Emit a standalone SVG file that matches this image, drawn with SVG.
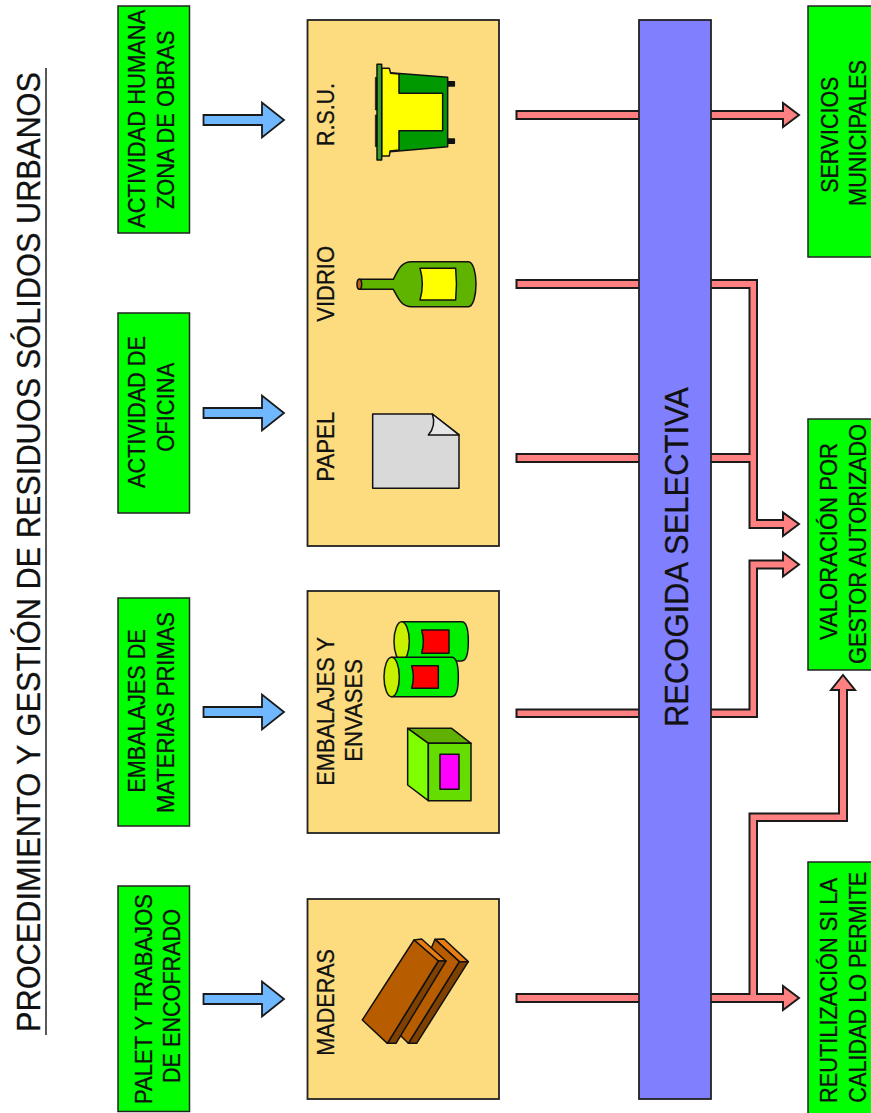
<svg xmlns="http://www.w3.org/2000/svg" width="871" height="1113" viewBox="0 0 871 1113">
<style>
text{font-family:"Liberation Sans",Arial,sans-serif;fill:#111;stroke:#111;stroke-width:.3}
.s{font-size:24px}
.g{fill:#00ff00;stroke:#222;stroke-width:1.5}
.t{fill:#fddc80;stroke:#222;stroke-width:1.8}
.p{fill:#ff8080;stroke:#1a1a1a;stroke-width:2;stroke-linejoin:miter}
.b{fill:#6fb7ff;stroke:#1a1a1a;stroke-width:1.8}
.i{stroke:#111;stroke-width:4.5;stroke-linejoin:round}
</style>
<rect width="871" height="1113" fill="#fff"/>
<g id="title">
<text transform="translate(39.500,1032) rotate(-90)" font-size="33" textLength="960" lengthAdjust="spacingAndGlyphs">PROCEDIMIENTO Y GESTIÓN DE RESIDUOS SÓLIDOS URBANOS</text>
<line x1="46" y1="68" x2="46" y2="1035" stroke="#222" stroke-width="1.5"/>
</g>
<g id="connectors">
<path class="b" d="M203.500,115H262V102.500L284,120L262,137.500V125H203.500Z"/>
<path class="b" d="M203.500,408H262V395.500L284,413L262,430.500V418H203.500Z"/>
<path class="b" d="M203.500,707H262V694.500L284,712L262,729.500V717H203.500Z"/>
<path class="b" d="M203.500,994H262V981.500L284,999L262,1016.500V1004H203.500Z"/>
<path class="p" d="M516.500,111H783V103L799,115L783,127V119H516.500Z"/>
<path class="p" d="M516.500,280H757V520H783V512.500L799,524L783,536V528H749.500V462H516.500V454H749.500V288H516.500Z"/>
<path class="p" d="M516.500,709.500H749.500V560.500H783V552.500L799,564.500L783,576.500V568.500H757V717H516.500Z"/>
<path class="p" d="M516.500,994H749.500V813.500H839V690H831L843,675L855,690H847V821H757V994H783V986L799,998L783,1010V1002H516.500Z"/>
</g>
<g id="recogida">
<rect x="639" y="20" width="72" height="1079" fill="#8080ff" stroke="#222" stroke-width="1.8"/>
<text transform="translate(688,727) rotate(-90)" font-size="33" textLength="340" lengthAdjust="spacingAndGlyphs">RECOGIDA SELECTIVA</text>
</g>
<g id="origen-actividad-humana">
<rect class="g" x="118" y="6" width="71.500" height="227"/>
<text class="s" transform="translate(145,228) rotate(-90) scale(.915,1)">ACTIVIDAD HUMANA</text>
<text class="s" transform="translate(173.500,209) rotate(-90)" textLength="178.500" lengthAdjust="spacingAndGlyphs">ZONA DE OBRAS</text>
</g>
<g id="origen-oficina">
<rect class="g" x="118" y="313" width="71.500" height="200"/>
<text class="s" transform="translate(145,488) rotate(-90)" textLength="152" lengthAdjust="spacingAndGlyphs">ACTIVIDAD DE</text>
<text class="s" transform="translate(173.500,451.700) rotate(-90)" textLength="89" lengthAdjust="spacingAndGlyphs">OFICINA</text>
</g>
<g id="origen-embalajes">
<rect class="g" x="118" y="598" width="71.500" height="228"/>
<text class="s" transform="translate(145,792.700) rotate(-90)" textLength="163.400" lengthAdjust="spacingAndGlyphs">EMBALAJES DE</text>
<text class="s" transform="translate(173.500,813) rotate(-90)" textLength="201" lengthAdjust="spacingAndGlyphs">MATERIAS PRIMAS</text>
</g>
<g id="origen-palet">
<rect class="g" x="118" y="886" width="71.500" height="225.500"/>
<text class="s" transform="translate(151.700,1104) rotate(-90)" textLength="210" lengthAdjust="spacingAndGlyphs">PALET Y TRABAJOS</text>
<text class="s" transform="translate(180,1083) rotate(-90)" textLength="174" lengthAdjust="spacingAndGlyphs">DE ENCOFRADO</text>
</g>
<g id="contenedor-rsu-vidrio-papel">
<rect class="t" x="307.500" y="20" width="191.500" height="526"/>
<text class="s" transform="translate(334.300,146) rotate(-90)" textLength="63" lengthAdjust="spacingAndGlyphs">R.S.U.</text>
<text class="s" transform="translate(334.300,321.700) rotate(-90)" textLength="75.700" lengthAdjust="spacingAndGlyphs">VIDRIO</text>
<text class="s" transform="translate(334.300,481.700) rotate(-90)" textLength="70" lengthAdjust="spacingAndGlyphs">PAPEL</text>
<g transform="translate(300,0) scale(.33333)">
<path class="i" d="M443,245H463V258H443ZM443,417H463V430H443Z" fill="#111"/>
<path class="i" d="M270,218L443,232V440L270,455Z" fill="#009900"/>
<path class="i" d="M245,205H268L272,220L297,222V280H428V392H297V450L270,453L268,468H245Z" fill="#ffff00"/>
<path d="M226,232H231V330H226ZM226,345H231V440H226Z" fill="#111" stroke="#111" stroke-width="2"/>
<rect class="i" x="231" y="193" width="14" height="287" fill="#33a02c"/>
<path class="i" d="M178,838H280C296,805 305,785 335,785H505C520,785 528,820 528,853C528,885 520,920 505,920H335C305,920 296,898 280,868H178Z" fill="#5fb400"/>
<ellipse class="i" cx="178" cy="853" rx="7" ry="15" fill="#c0601a"/>
<path class="i" d="M360,805H467Q472,853 467,900H360Q374,853 360,805Z" fill="#ffff00"/>
<g transform="translate(0,990)">
<path class="i" d="M218,252H397L477,314V475H218Z" fill="#d9d9d9"/>
<path class="i" d="M397,252Q409,288 385,315H477Z" fill="#e6e6e6"/>
</g>
</g>
</g>
<g id="contenedor-embalajes">
<rect class="t" x="307.500" y="591" width="191.500" height="242"/>
<text class="s" transform="translate(334.300,785.700) rotate(-90)" textLength="148.700" lengthAdjust="spacingAndGlyphs">EMBALAJES Y</text>
<text class="s" transform="translate(362.300,761.700) rotate(-90)" textLength="102.700" lengthAdjust="spacingAndGlyphs">ENVASES</text>
<g transform="translate(300,580) scale(.33333)">
<path class="i" d="M305,125H485Q505,125 505,184Q505,243 485,243H305Z" fill="#00f000"/>
<ellipse class="i" cx="305" cy="184" rx="23" ry="59" fill="#c8f000"/>
<path class="i" d="M365,150H447V220H365Q375,185 365,150Z" fill="#ff0000"/>
<path class="i" d="M275,232H455Q475,232 475,291Q475,350 455,350H275Z" fill="#00f000"/>
<ellipse class="i" cx="275" cy="291" rx="23" ry="59" fill="#c8f000"/>
<path class="i" d="M335,257H415V325H335Q345,291 335,257Z" fill="#ff0000"/>
<path class="i" d="M323,445H455L513,490H385Z" fill="#5fb000"/>
<path class="i" d="M323,445L385,490V662L323,615Z" fill="#80ff00"/>
<rect class="i" x="385" y="490" width="128" height="172" fill="#66dd00"/>
<rect class="i" x="420" y="523" width="57" height="105" fill="#ff00ff"/>
</g>
</g>
<g id="contenedor-maderas">
<rect class="t" x="307.500" y="899" width="191.500" height="200"/>
<text class="s" transform="translate(334.300,1055.700) rotate(-90)" textLength="106.700" lengthAdjust="spacingAndGlyphs">MADERAS</text>
<g transform="translate(300,890) scale(.33333)">
<path class="i" d="M405,148L432,147L505,215H478Z" fill="#e87c10"/>
<path class="i" d="M478,215H505L350,460H325Z" fill="#804000"/>
<path class="i" d="M405,148L478,215L325,460L290,425Z" fill="#b85c00"/>
<path class="i" d="M342,150L365,147L438,213H415Z" fill="#e87c10"/>
<path class="i" d="M415,213H438L288,460H262Z" fill="#804000"/>
<path class="i" d="M342,150L415,213L262,460L187,390Z" fill="#b85c00"/>
</g>
</g>
<g id="destino-servicios">
<rect class="g" x="808" y="6" width="70" height="251"/>
<text class="s" transform="translate(838.300,192.700) rotate(-90)" textLength="116" lengthAdjust="spacingAndGlyphs">SERVICIOS</text>
<text class="s" transform="translate(866,206) rotate(-90)" textLength="146" lengthAdjust="spacingAndGlyphs">MUNICIPALES</text>
</g>
<g id="destino-valoracion">
<rect class="g" x="808" y="419" width="70" height="251"/>
<text class="s" transform="translate(836.700,640) rotate(-90)" textLength="197" lengthAdjust="spacingAndGlyphs">VALORACIÓN POR</text>
<text class="s" transform="translate(866,664) rotate(-90)" textLength="240" lengthAdjust="spacingAndGlyphs">GESTOR AUTORIZADO</text>
</g>
<g id="destino-reutilizacion">
<rect class="g" x="808" y="862" width="70" height="260"/>
<text class="s" transform="translate(836.700,1103) rotate(-90)" textLength="225" lengthAdjust="spacingAndGlyphs">REUTILIZACIÓN SI LA</text>
<text class="s" transform="translate(866,1102.700) rotate(-90)" textLength="231" lengthAdjust="spacingAndGlyphs">CALIDAD LO PERMITE</text>
</g>
</svg>
